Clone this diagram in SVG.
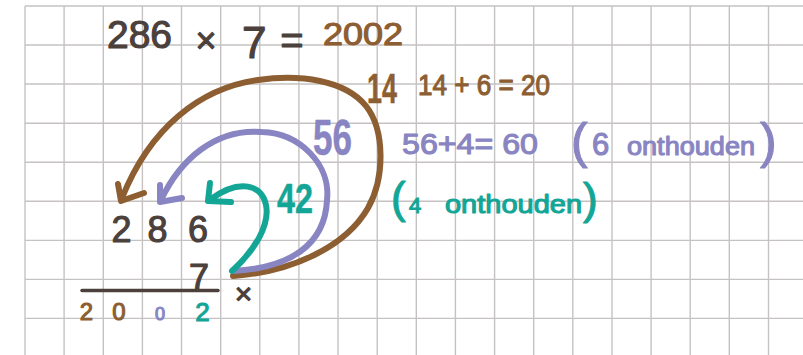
<svg xmlns="http://www.w3.org/2000/svg" width="803" height="355" viewBox="0 0 803 355">
<style>
.grid line{stroke:#c6c2c2;stroke-width:1.4}
text{font-family:"Liberation Sans","DejaVu Sans",sans-serif;stroke-width:1.1;stroke-linejoin:round}
.dk{fill:#4b403b;stroke:#4b403b}
.br{fill:#8d5e32;stroke:#8d5e32}
.pu{fill:#8985c2;stroke:#8985c2}
.te{fill:#13a596;stroke:#13a596}
.bold{font-weight:bold;stroke-width:0.5}
.arc{fill:none;stroke-width:6;stroke-linecap:round;stroke-linejoin:round}
.sb{stroke:#8d5e32}
.sp{stroke:#8985c2}
.st{stroke:#13a596}
</style>
<rect width="803" height="355" fill="#ffffff"/>
<g id="grid" class="grid">
<line x1="25" y1="6" x2="25" y2="355"/>
<line x1="64.1" y1="6" x2="64.1" y2="355"/>
<line x1="103.3" y1="6" x2="103.3" y2="355"/>
<line x1="142.4" y1="6" x2="142.4" y2="355"/>
<line x1="181.5" y1="6" x2="181.5" y2="355"/>
<line x1="220.7" y1="6" x2="220.7" y2="355"/>
<line x1="259.8" y1="6" x2="259.8" y2="355"/>
<line x1="298.9" y1="6" x2="298.9" y2="355"/>
<line x1="338" y1="6" x2="338" y2="355"/>
<line x1="377.2" y1="6" x2="377.2" y2="355"/>
<line x1="416.3" y1="6" x2="416.3" y2="355"/>
<line x1="455.4" y1="6" x2="455.4" y2="355"/>
<line x1="494.6" y1="6" x2="494.6" y2="355"/>
<line x1="533.7" y1="6" x2="533.7" y2="355"/>
<line x1="572.8" y1="6" x2="572.8" y2="355"/>
<line x1="612" y1="6" x2="612" y2="355"/>
<line x1="651.1" y1="6" x2="651.1" y2="355"/>
<line x1="690.2" y1="6" x2="690.2" y2="355"/>
<line x1="729.3" y1="6" x2="729.3" y2="355"/>
<line x1="768.5" y1="6" x2="768.5" y2="355"/>
<line x1="25" y1="6" x2="803" y2="6"/>
<line x1="25" y1="45" x2="803" y2="45"/>
<line x1="25" y1="84" x2="803" y2="84"/>
<line x1="25" y1="123.2" x2="803" y2="123.2"/>
<line x1="25" y1="162.2" x2="803" y2="162.2"/>
<line x1="25" y1="201.3" x2="803" y2="201.3"/>
<line x1="25" y1="240.4" x2="803" y2="240.4"/>
<line x1="25" y1="279.4" x2="803" y2="279.4"/>
<line x1="25" y1="318.4" x2="803" y2="318.4"/>
</g>
<g id="equation">
<text class="dk" x="107" y="48" font-size="38" textLength="65" lengthAdjust="spacingAndGlyphs">286</text>
<text class="dk" x="206" y="53" font-size="36" text-anchor="middle">×</text>
<text class="dk" x="242" y="58" font-size="44">7</text>
<text class="dk" x="292" y="54" font-size="40" text-anchor="middle">=</text>
<text class="br" x="323" y="45" font-size="32" textLength="80" lengthAdjust="spacingAndGlyphs">2002</text>
</g>
<g id="connectors">
<path class="arc sb" d="M233,276 C290,272 345,248 368,208 C385,178 385,130 366,106 C345,80 300,74 258,80 C200,88 150,128 122,198"/>
<path class="arc sb" d="M118,184 L121,201 L144,193"/>
<path class="arc sp" d="M233,271 C290,268 325,245 327,200 C331,165 300,133 262,132 C215,128 180,160 161,200"/>
<path class="arc sp" d="M160,185 L160,202 L182,198"/>
<path class="arc st" d="M232,271 C255,250 270,225 266,205 C262,185 240,178 211,199"/>
<path class="arc st" d="M210,183 L208,201 L231,202"/>
</g>
<g id="label-14">
<text class="br bold" x="367" y="103" font-size="43" textLength="30" lengthAdjust="spacingAndGlyphs">14</text>
<text class="br" x="418" y="95" font-size="29" textLength="132" lengthAdjust="spacingAndGlyphs">14 + 6 = 20</text>
</g>
<g id="label-56">
<text class="pu bold" x="313" y="155" font-size="50" textLength="39" lengthAdjust="spacingAndGlyphs">56</text>
<text class="pu" x="402" y="154" font-size="29" textLength="136" lengthAdjust="spacingAndGlyphs">56+4= 60</text>
<text class="pu" x="571" y="158" font-size="50" stroke-width="0.3">(</text>
<text class="pu" x="592" y="155" font-size="31">6</text>
<text class="pu" x="627" y="155" font-size="26" textLength="128" lengthAdjust="spacingAndGlyphs">onthouden</text>
<text class="pu" x="760" y="158" font-size="50" stroke-width="0.3">)</text>
</g>
<g id="label-42">
<text class="te bold" x="277" y="213" font-size="42" textLength="36" lengthAdjust="spacingAndGlyphs">42</text>
<text class="te" x="391" y="213" font-size="44" stroke-width="0.3">(</text>
<text class="te" x="409" y="213" font-size="22">4</text>
<text class="te" x="445" y="213" font-size="26" textLength="137" lengthAdjust="spacingAndGlyphs">onthouden</text>
<text class="te" x="583" y="214" font-size="44" stroke-width="0.3">)</text>
</g>
<g id="multiplication">
<text class="dk" x="121.5" y="242" font-size="36" text-anchor="middle">2</text>
<text class="dk" x="157.5" y="242" font-size="36" text-anchor="middle">8</text>
<text class="dk" x="198" y="242" font-size="36" text-anchor="middle">6</text>
<text class="dk" x="199" y="290" font-size="36" text-anchor="middle">7</text>
<line x1="82" y1="290.5" x2="218" y2="290.5" stroke="#4b403b" stroke-width="3.5" stroke-linecap="round"/>
<text class="dk" x="243.5" y="304" font-size="30" text-anchor="middle">×</text>
<text class="br" x="86.5" y="320" font-size="24" text-anchor="middle">2</text>
<text class="br" x="119" y="320" font-size="24" text-anchor="middle">0</text>
<text class="pu" x="160" y="320" font-size="18" text-anchor="middle">0</text>
<text class="te" x="202.5" y="321" font-size="26" text-anchor="middle">2</text>
</g>
</svg>
